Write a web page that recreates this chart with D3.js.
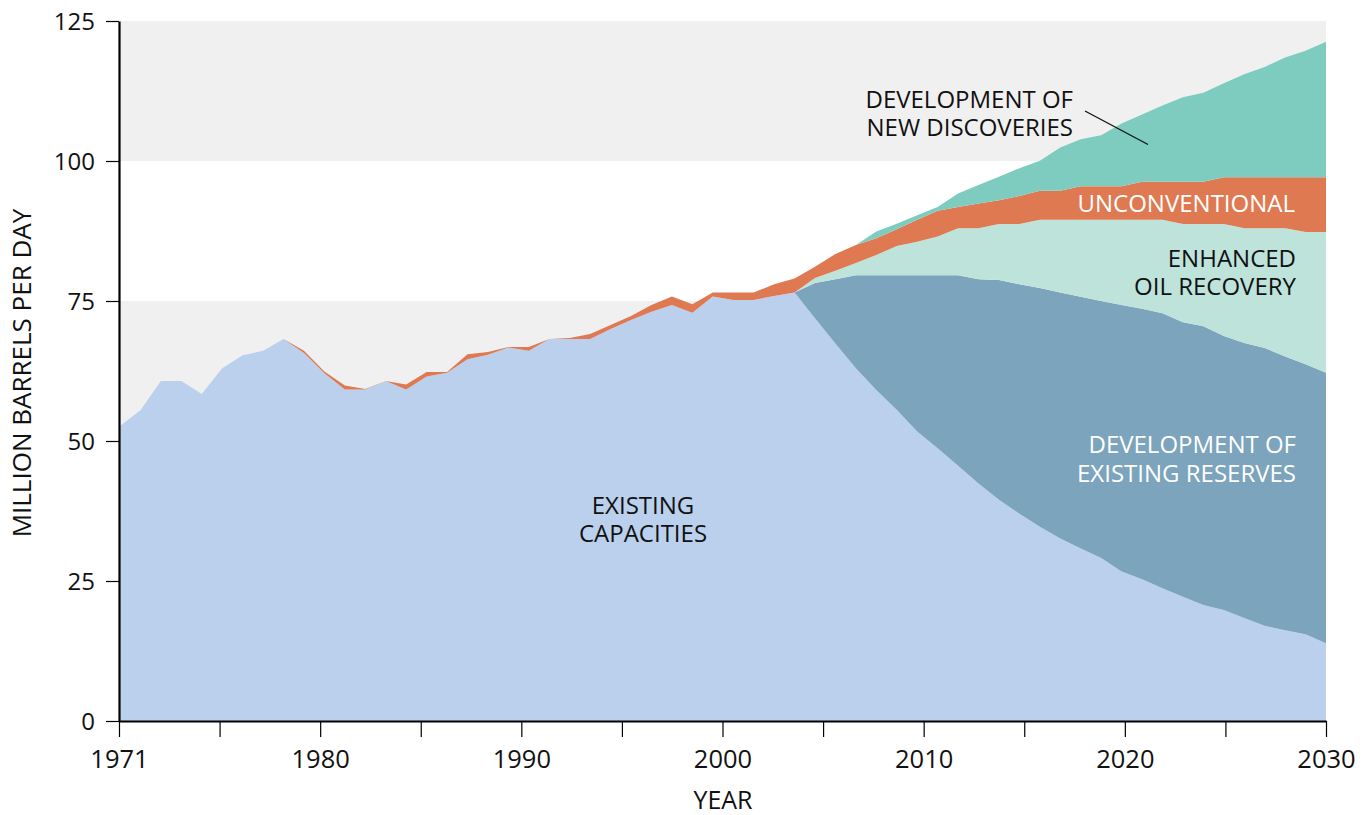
<!DOCTYPE html>
<html><head><meta charset="utf-8">
<script src="https://cdn.jsdelivr.net/npm/d3@7"></script>
<style>
body{margin:0;background:#fff}
svg{display:block}
text{font-family:"Open Sans","Noto Sans",sans-serif}
</style>
</head><body>
<svg id="chart" width="1367" height="815"></svg>
<script>
const years = [1971,1972,1973,1974,1975,1976,1977,1978,1979,1980,
  1981,1982,1983,1984,1985,1986,1987,1988,1989,1990,
  1991,1992,1993,1994,1995,1996,1997,1998,1999,2000,
  2001,2002,2003,2004,2005,2006,2007,2008,2009,2010,
  2011,2012,2013,2014,2015,2016,2017,2018,2019,2020,
  2021,2022,2023,2024,2025,2026,2027,2028,2029,2030];

const existingCapacities = [52.7,55.5,60.7,60.7,58.4,63.0,65.3,66.1,68.2,65.7,
  62.1,59.2,59.2,60.7,59.2,61.5,62.2,64.6,65.4,66.7,
  66.1,68.2,68.2,68.2,70.0,71.6,73.1,74.3,72.9,75.8,
  75.2,75.2,75.9,76.5,71.9,67.4,63.0,59.1,55.6,51.7,
  48.7,45.6,42.4,39.5,37.0,34.7,32.6,30.8,29.1,26.7,
  25.3,23.7,22.2,20.7,19.8,18.4,17.0,16.2,15.5,13.9];

const existingReserves = [0,0,0,0,0,0,0,0,0,0,
  0,0,0,0,0,0,0,0,0,0,
  0,0,0,0,0,0,0,0,0,0,
  0,0,0,0,6.3,11.5,16.6,20.5,24.0,27.9,
  30.9,34.0,36.5,39.25,41.0,42.6,43.9,44.95,45.9,47.6,
  48.3,49.1,49.0,49.8,48.95,49.1,49.6,48.9,48.2,48.3];

const enhancedRecovery = [0,0,0,0,0,0,0,0,0,0,
  0,0,0,0,0,0,0,0,0,0,
  0,0,0,0,0,0,0,0,0,0,
  0,0,0,0,0.9,1.5,2.2,3.6,5.2,6.0,
  6.9,8.4,9.1,10.0,10.75,12.2,13.0,13.75,14.5,15.2,
  15.9,16.7,17.55,18.25,20.0,20.5,21.4,22.9,23.6,25.1];

const unconventional = [0,0,0,0,0,0,0,0,0,0.4,
  0.3,0.7,0.1,0,0.9,0.8,0.1,0.9,0.5,0.1,
  0.7,0,0.2,0.9,0.7,0.7,1.2,1.5,1.5,0.7,
  1.3,1.3,2.1,2.5,2.0,3.0,3.2,3.0,3.0,3.9,
  4.6,3.8,4.4,4.25,5.0,5.2,5.2,6.0,6.0,6.0,
  6.8,6.8,7.55,7.55,8.35,9.1,9.1,9.1,9.8,9.8];

const newDiscoveries = [0,0,0,0,0,0,0,0,0,0,
  0,0,0,0,0,0,0,0,0,0,
  0,0,0,0,0,0,0,0,0,0,
  0,0,0,0,0,0,0,1.2,1.0,0.8,
  0.7,2.4,3.3,4.2,4.95,5.35,7.7,8.4,9.1,11.2,
  12.0,13.6,15.1,15.9,16.8,18.4,19.7,21.4,22.6,24.2];

const seriesKeys = ["existing","reserves","eor","unconv","newdisc"];
const seriesColors = {existing:"#BAD0EC", reserves:"#7CA4BC", eor:"#BDE3DB", unconv:"#DF7952", newdisc:"#7DCCBF"};

const xTickYears = [1970,1975,1980,1985,1990,1995,2000,2005,2010,2015,2020,2025,2030];
const xTickLabels = {1970:"1971",1980:"1980",1990:"1990",2000:"2000",2010:"2010",2020:"2020",2030:"2030"};
const yTicks = [0,25,50,75,100,125];
const bands = [[0,25],[50,75],[100,125]];

const table = years.map((yr,i)=>({year:yr, existing:existingCapacities[i], reserves:existingReserves[i],
  eor:enhancedRecovery[i], unconv:unconventional[i], newdisc:newDiscoveries[i]}));

const svg = d3.select("#chart");
const L = 120, R = 1326, T = 21, B = 721;

const x = d3.scaleLinear().domain([1971,2030]).range([L,R]);
const xAxisScale = d3.scaleLinear().domain([1970,2030]).range([L-1,R]);
const y = d3.scaleLinear().domain([0,125]).range([B,T]);

// background bands
svg.append("g").selectAll("rect").data(bands).join("rect")
  .attr("x",L).attr("width",R-L)
  .attr("y",d=>y(d[1])).attr("height",d=>y(d[0])-y(d[1]))
  .attr("fill","#F0F0F0");

const stacked = d3.stack().keys(seriesKeys)(table);
const area = d3.area().x(d=>x(d.data.year)).y0(d=>y(d[0])).y1(d=>y(d[1]));

svg.append("g").selectAll("path").data(stacked).join("path")
  .attr("d",area).attr("fill",d=>seriesColors[d.key]);

// axes
const xAxis = d3.axisBottom(xAxisScale).tickValues(xTickYears)
  .tickFormat(d=>xTickLabels[d]||"").tickSize(16).tickSizeOuter(0);
const gx = svg.append("g").attr("transform",`translate(0,${B})`).call(xAxis);
gx.select(".domain").attr("stroke","#000").attr("stroke-width",2.2);
gx.selectAll(".tick line").attr("stroke","#000").attr("stroke-width",1.2);
gx.selectAll(".tick text").attr("y",47).attr("dy",0).attr("font-size",25.5).attr("fill","#111")
  .attr("font-family","'Open Sans',sans-serif");

const yAxis = d3.axisLeft(y).tickValues(yTicks).tickSize(13).tickSizeOuter(0).tickFormat(d3.format("d"));
const gy = svg.append("g").attr("transform",`translate(${L-1},0)`).call(yAxis);
gy.select(".domain").attr("stroke","#000").attr("stroke-width",2.2);
gy.selectAll(".tick line").attr("stroke","#000").attr("stroke-width",1.2);
gy.selectAll(".tick text").attr("x",-24).attr("dy","0.36em").attr("font-size",24).attr("fill","#111")
  .attr("font-family","'Open Sans',sans-serif");

// axis titles
svg.append("text").attr("x",(L+R)/2).attr("y",809).attr("text-anchor","middle")
  .attr("font-size",25).attr("fill","#111").text("YEAR");
svg.append("text").attr("transform",`translate(31,${(T+B)/2+2}) rotate(-90)`).attr("text-anchor","middle")
  .attr("font-size",26).attr("fill","#111").text("MILLION BARRELS PER DAY");

// area labels (one text element per line)
function label(lines, xPos, yBase, anchor, color){
  lines.forEach((s,i)=>svg.append("text").attr("text-anchor",anchor).attr("font-size",24)
    .attr("fill",color).attr("x",xPos).attr("y",yBase+i*28.3).text(s));
}
label(["EXISTING","CAPACITIES"], 643, 513.5, "middle", "#111");
label(["DEVELOPMENT OF","NEW DISCOVERIES"], 1073, 107.5, "end", "#111");
label(["UNCONVENTIONAL"], 1295, 212.3, "end", "#fff");
label(["ENHANCED","OIL RECOVERY"], 1296, 266.7, "end", "#111");
label(["DEVELOPMENT OF","EXISTING RESERVES"], 1296, 453.3, "end", "#fff");

// leader line
svg.append("line").attr("x1",1085).attr("y1",111).attr("x2",1148).attr("y2",144.5)
  .attr("stroke","#111").attr("stroke-width",1.3);
</script>
</body></html>
